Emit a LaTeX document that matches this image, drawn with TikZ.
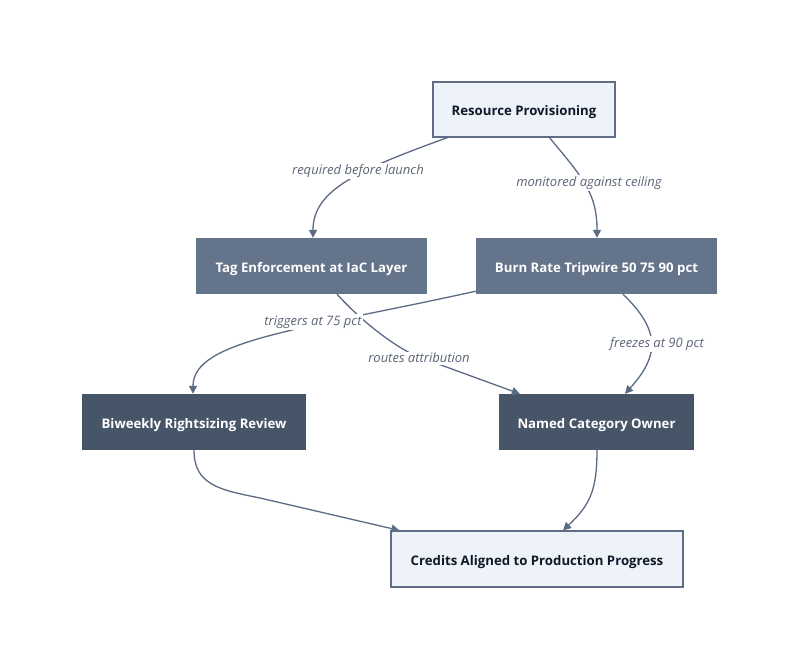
\documentclass[tikz,border=0pt]{standalone}
\usepackage{fontspec}
\setmainfont{Open Sans}
\usetikzlibrary{arrows.meta,calc}
\definecolor{edgec}{HTML}{5B6B84}
\definecolor{lightfill}{HTML}{EEF2F9}
\definecolor{lightborder}{HTML}{5F6E86}
\definecolor{midfill}{HTML}{64748B}
\definecolor{darkfill}{HTML}{475569}
\definecolor{labelc}{HTML}{5C6577}
\definecolor{darktext}{HTML}{111827}
\tikzset{
  base/.style={rectangle, inner sep=0pt, font=\fontsize{13.2}{15}\selectfont\bfseries, minimum height=56pt, text height=12pt, text depth=0pt},
  lightbox/.style={base, fill=lightfill, draw=lightborder, line width=1.2pt, text=darktext},
  midbox/.style={base, fill=midfill, draw=none, text=white},
  darkbox/.style={base, fill=darkfill, draw=none, text=white},
  conn/.style={draw=edgec, line width=1.3pt, -{Triangle[length=8pt,width=8pt]}},
  elabel/.style={fill=white, inner sep=1.5pt, text=labelc, font=\fontsize{13}{15}\selectfont\itshape}
}
\begin{document}
\begin{tikzpicture}[x=1pt,y=-1pt]
\useasboundingbox[fill=white] (0,0) rectangle (800,671);
\node[lightbox, minimum width=182pt, minimum height=55pt] (rp) at (524,109.5) {Resource Provisioning};
\node[midbox, minimum width=231pt] (tag) at (311.5,266) {Tag Enforcement at IaC Layer};
\node[midbox, minimum width=241pt] (burn) at (596.5,266) {Burn Rate Tripwire 50 75 90 pct};
\node[darkbox, minimum width=224pt] (bw) at (194,422) {Biweekly Rightsizing Review};
\node[darkbox, minimum width=195pt] (nco) at (596.5,422) {Named Category Owner};
\node[lightbox, minimum width=292pt] (cr) at (537,559) {Credits Aligned to Production Progress};

% edges
\draw[conn] ($(rp.south west)+(15,0)$) .. controls (358,170) and (313,190) .. ($(tag.north)+(1.5,0)$);
\draw[conn] ($(rp.south west)+(117,0)$) .. controls (585,180) and (597,195) .. ($(burn.north)+(0.5,0)$);
\draw[conn] ($(burn.south west)+(0,-3)$) .. controls (300,330) and (193,340) .. ($(bw.north)+(-1,0)$);
\draw[conn] ($(tag.south)+(25.5,0)$) .. controls (365,325) and (400,350) .. (419,357) -- ($(nco.north west)+(21,0)$);
\draw[conn] ($(burn.south)+(26.5,0)$) .. controls (660,330) and (660,355) .. ($(nco.north)+(28.5,0)$);
\draw[conn] (bw.south) .. controls (194,485) and (220,490) .. (260,498) -- ($(cr.north west)+(9,0)$);
\draw[conn] ($(nco.south)+(0.5,0)$) .. controls (597,490) and (590,505) .. ($(cr.north)+(26,0)$);

% labels
\node[elabel] (l1) at (358,171) {required before launch};
\node[elabel] (l2) at (589,183) {monitored against ceiling};
\node[elabel] (l3) at (313,322) {triggers at 75 pct};
\node[elabel] (l4) at (419,358) {routes attribution};
\node[elabel] (l5) at (657,344) {freezes at 90 pct};
\end{tikzpicture}
\end{document}
